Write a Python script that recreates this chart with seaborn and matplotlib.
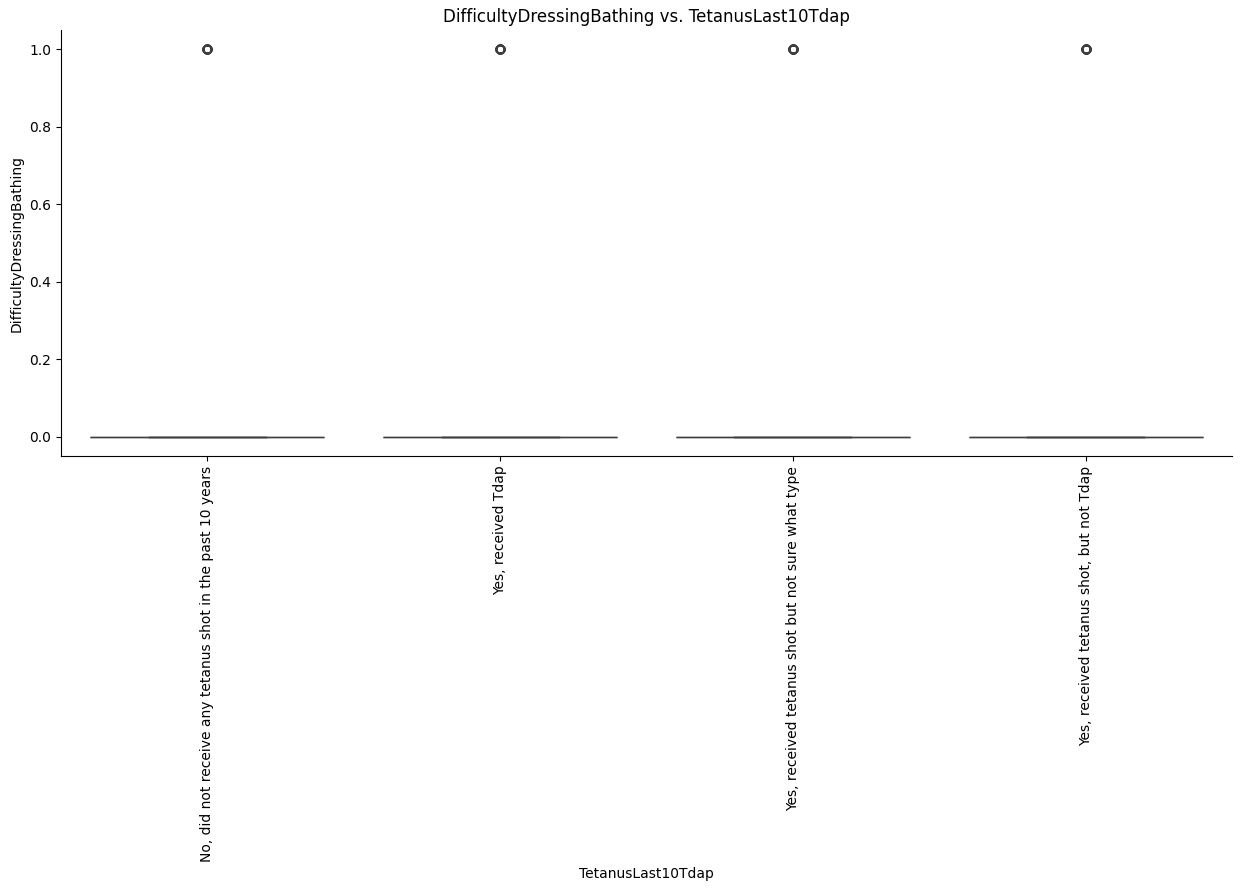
import matplotlib
matplotlib.use("Agg")
import matplotlib.pyplot as plt
import seaborn as sns
import pandas as pd

categories = [
    "No, did not receive any tetanus shot in the past 10 years",
    "Yes, received Tdap",
    "Yes, received tetanus shot but not sure what type",
    "Yes, received tetanus shot, but not Tdap",
]
# binary outcome: most respondents 0, a minority 1 (shown as outliers)
zeros_per_group = [900, 900, 900, 900]
ones_per_group = [60, 60, 60, 60]

rows = []
for cat, n0, n1 in zip(categories, zeros_per_group, ones_per_group):
    rows += [(cat, 0)] * n0 + [(cat, 1)] * n1
df = pd.DataFrame(rows, columns=["TetanusLast10Tdap", "DifficultyDressingBathing"])

fig = plt.figure(figsize=(12.58, 8.92), dpi=100)
ax = fig.add_axes([61 / 1258, 1 - 456 / 892, (1232 - 61) / 1258, (456 - 30) / 892])
sns.boxplot(data=df, x="TetanusLast10Tdap", y="DifficultyDressingBathing", ax=ax)
sns.despine(ax=ax)
ax.set_title("DifficultyDressingBathing vs. TetanusLast10Tdap")
plt.xticks(rotation=90)
fig.savefig("out.png", dpi=100)
